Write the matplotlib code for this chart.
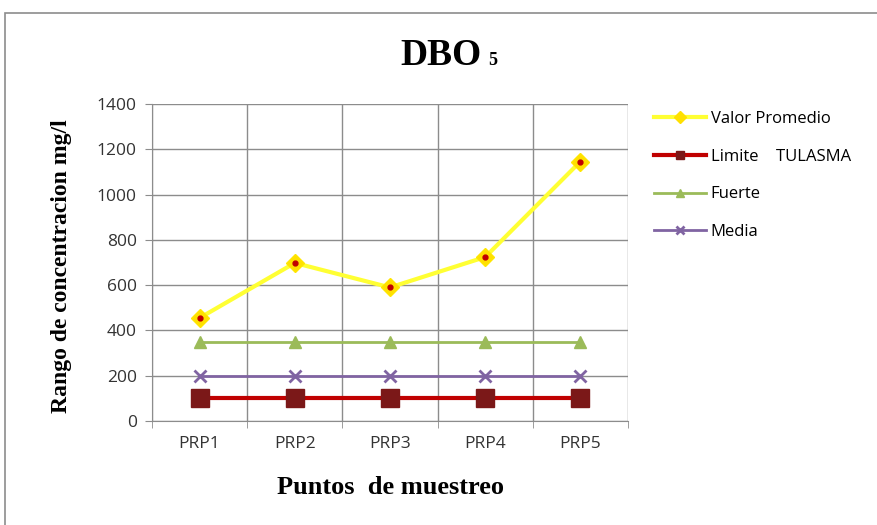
import matplotlib
matplotlib.use("Agg")
import matplotlib.pyplot as plt
from matplotlib.patches import Rectangle
from matplotlib.lines import Line2D

categories = ["PRP1", "PRP2", "PRP3", "PRP4", "PRP5"]
valor_promedio = [455, 698, 590, 724, 1146]
limite_tulasma = [100, 100, 100, 100, 100]
fuerte = [350, 350, 350, 350, 350]
media = [200, 200, 200, 200, 200]
y_ticks = [0, 200, 400, 600, 800, 1000, 1200, 1400]

fig = plt.figure(figsize=(8.78, 5.25), dpi=100)
fig.patches.append(Rectangle((5/878, -0.01), 1, 1.01 - 13/525, transform=fig.transFigure,
                             fill=False, edgecolor="#8c8c8c", linewidth=1.2))

ax = fig.add_axes([152/878, 1 - 421/525, 476/878, 317/525])
x = list(range(len(categories)))

ax.plot(x, limite_tulasma, color="#C00000", linewidth=3, marker="s", markersize=13,
        markerfacecolor="#7B1818", markeredgecolor="#7B1818", zorder=3)
ax.plot(x, fuerte, color="#9BBB59", linewidth=2, marker="^", markersize=8,
        markerfacecolor="#9BBB59", markeredgecolor="#9BBB59", zorder=3)
ax.plot(x, media, color="#8064A2", linewidth=2, marker="x", markersize=8,
        markeredgewidth=2, zorder=3)
ax.plot(x, valor_promedio, color="#FFFF33", linewidth=3, marker="D", markersize=9,
        markerfacecolor="#FFE000", markeredgecolor="#FFE600", zorder=4)
ax.plot(x, valor_promedio, linestyle="none", marker="o", markersize=3.5,
        markerfacecolor="#C00000", markeredgecolor="#C00000", zorder=5)

ax.set_xlim(-0.5, len(categories) - 0.5)
ax.set_ylim(0, 1400)
ax.set_yticks(y_ticks)
ax.set_yticklabels([str(v) for v in y_ticks], fontsize=12.5, family="Open Sans", color="#333333")
ax.set_xticks(x)
ax.set_xticklabels(categories, fontsize=12.5, family="Open Sans", color="#333333")
ax.set_xticks([i - 0.5 for i in range(len(categories) + 1)], minor=True)
ax.grid(True, axis="y", color="#8c8c8c", linewidth=1)
ax.grid(True, axis="x", which="minor", color="#8c8c8c", linewidth=1)
ax.tick_params(axis="x", which="major", length=0, pad=11)
ax.tick_params(axis="x", which="minor", length=5, color="#8c8c8c")
ax.tick_params(axis="y", length=5, color="#8c8c8c", pad=6)
ax.set_axisbelow(True)
for s in ["top", "right"]:
    ax.spines[s].set_visible(False)
for s in ["left", "bottom"]:
    ax.spines[s].set_color("#8c8c8c")

fig.text(482/878, 1 - 65/525, "DBO", fontsize=27, fontweight="bold",
         family="Liberation Serif", ha="right", va="baseline")
fig.text(488/878, 1 - 65/525, "5", fontsize=13, fontweight="bold",
         family="Liberation Serif", ha="left", va="baseline")
fig.text(391/878, 1 - 488/525, "Puntos  de muestreo", fontsize=19, fontweight="bold",
         family="Liberation Serif", ha="center", va="center")
fig.text(62/878, 1 - 266/525, "Rango de concentracion mg/l", fontsize=17, fontweight="bold",
         family="Liberation Serif", ha="center", va="center", rotation=90)

handles = [
    Line2D([], [], color="#FFFF33", linewidth=3, marker="D", markersize=6,
           markerfacecolor="#FFE000", markeredgecolor="#FFE000"),
    Line2D([], [], color="#C00000", linewidth=3, marker="s", markersize=6,
           markerfacecolor="#7B1818", markeredgecolor="#7B1818"),
    Line2D([], [], color="#9BBB59", linewidth=2, marker="^", markersize=6,
           markerfacecolor="#9BBB59", markeredgecolor="#9BBB59"),
    Line2D([], [], color="#8064A2", linewidth=2, marker="x", markersize=6,
           markeredgewidth=2),
]
labels = ["Valor Promedio", "Limite    TULASMA", "Fuerte", "Media"]
fig.legend(handles, labels, loc="upper left", bbox_to_anchor=(654/878, 1 - 111/525),
           frameon=False, prop={"family": "Open Sans", "size": 12},
           handlelength=3.1, handletextpad=0.3, labelspacing=1.3, borderaxespad=0,
           borderpad=0)

fig.savefig("out.png", dpi=100)
